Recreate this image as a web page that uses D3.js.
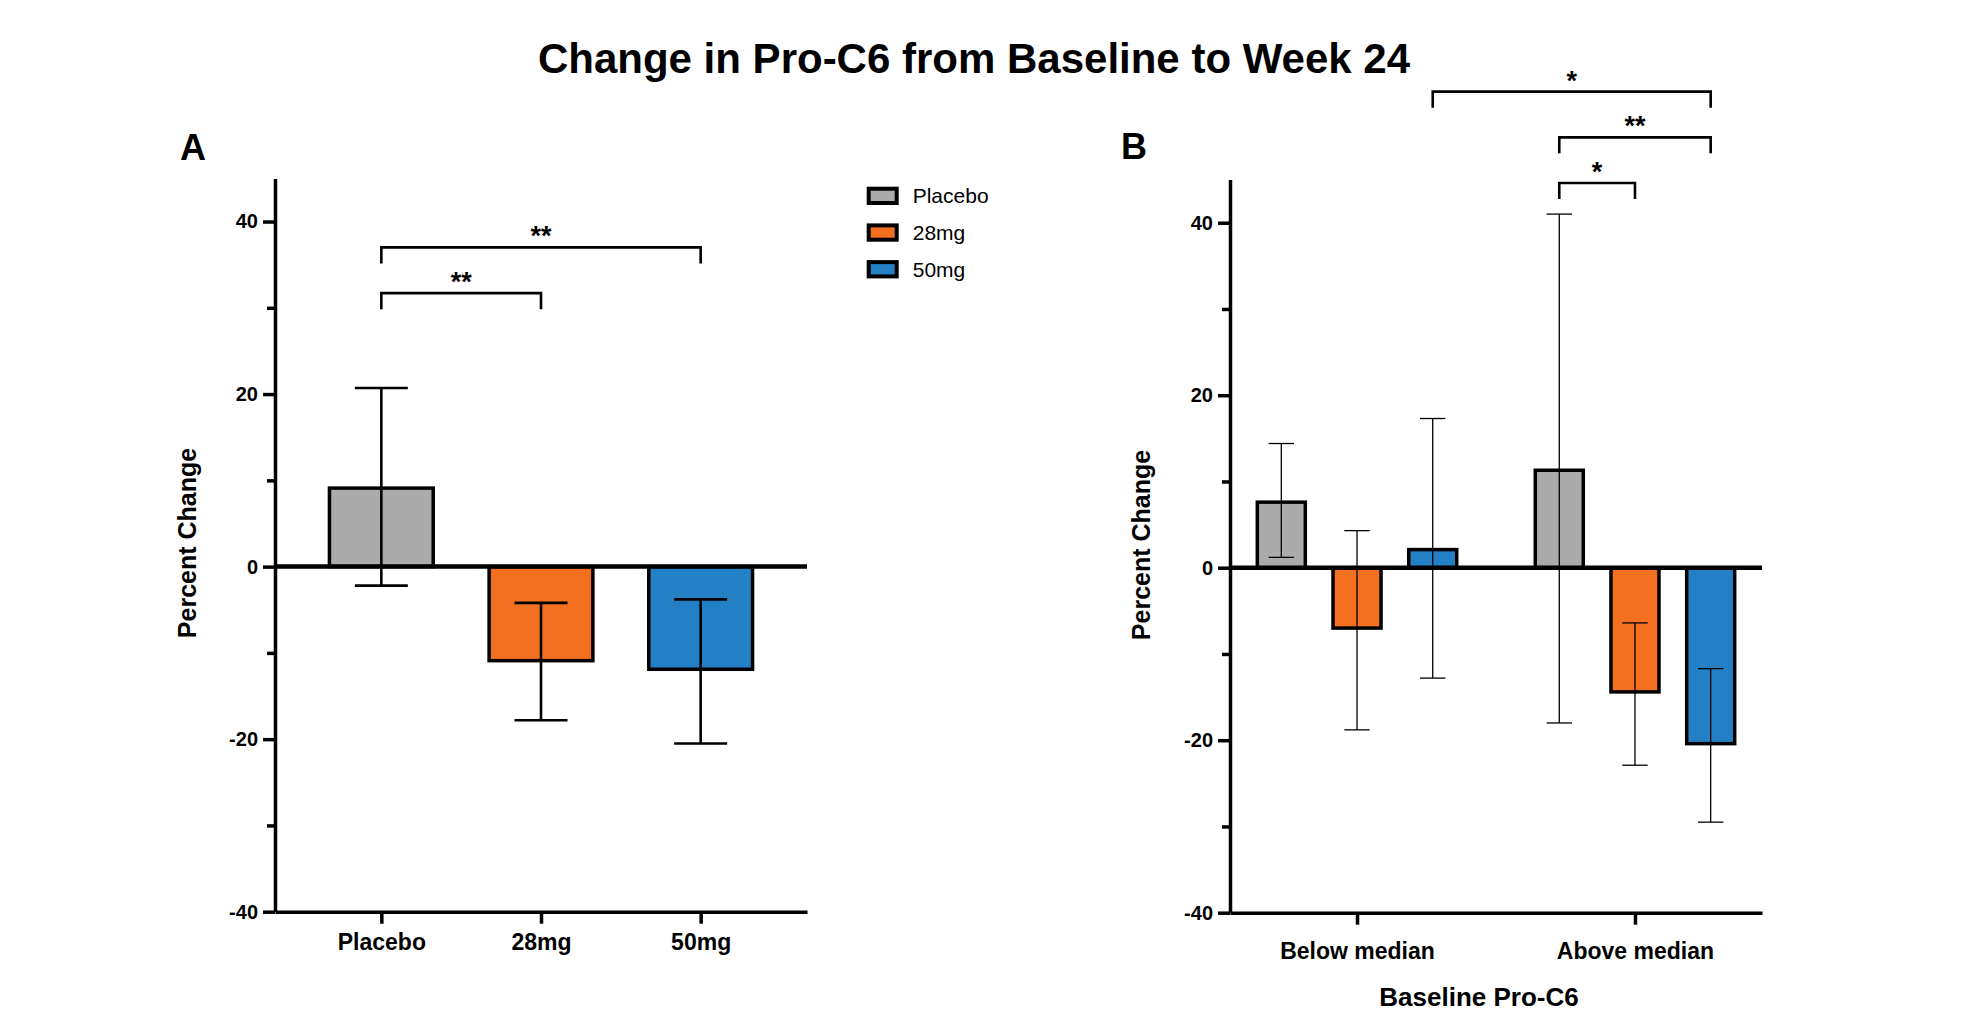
<!DOCTYPE html>
<html>
<head>
<meta charset="utf-8">
<script src="https://cdn.jsdelivr.net/npm/d3@7"></script>
<style>
  body { margin: 0; background: #fff; }
  svg { font-family: "Liberation Sans", Arial, Helvetica, sans-serif; }
</style>
</head>
<body>
<script>
// panel A: treatment groups
var groupsA = ["Placebo", "28mg", "50mg"];
var meanA = [9.1, -10.9, -11.9];
var lowA = [-2.2, -17.8, -20.5];
var highA = [20.7, -4.2, -3.8];

// panel B: baseline Pro-C6 subgroups x treatment
var groupsB = ["Below median", "Above median"];
var series = ["Placebo", "28mg", "50mg"];
var meanB = [[7.6, -7.0, 2.1], [11.3, -14.4, -20.4]];
var lowB = [[1.2, -18.8, -12.8], [-18.0, -22.9, -29.5]];
var highB = [[14.4, 4.3, 17.3], [41.0, -6.4, -11.7]];

var colors = ["#ababab", "#f37021", "#2480c5"];

var majorTicks = [-40, -20, 0, 20, 40];
var minorTicks = [-30, -10, 10, 30];

// significance brackets
var bracketsA = [
    {from: "Placebo", to: "28mg", y: 31.7, label: "**"},
    {from: "Placebo", to: "50mg", y: 37.0, label: "**"}
];
var bracketsB = [
    {from: ["Below median", "50mg"], to: ["Above median", "50mg"], y: 55.2, label: "*"},
    {from: ["Above median", "Placebo"], to: ["Above median", "50mg"], y: 49.9, label: "**"},
    {from: ["Above median", "Placebo"], to: ["Above median", "28mg"], y: 44.6, label: "*"}
];

var width = 1961,
    height = 1013;

var svg = d3.select("body")
    .append("svg")
    .attr("width", width)
    .attr("height", height);

//title
svg.append("text")
    .attr("x", 974)
    .attr("y", 73)
    .attr("text-anchor", "middle")
    .attr("font-size", 42)
    .attr("font-weight", "bold")
    .text("Change in Pro-C6 from Baseline to Week 24");

//y axis for a panel, with major and minor ticks
function drawYAxis(g, y, x0) {
    var major = g.append("g")
        .attr("transform", "translate(" + x0 + ",0)")
        .call(d3.axisLeft(y).tickValues(majorTicks).tickSize(12).tickSizeOuter(0).tickPadding(5)
            .tickFormat(function(d) { return String(d); }));
    major.select(".domain").attr("stroke-width", 3.5);
    major.selectAll(".tick line").attr("stroke-width", 3.5);
    major.selectAll(".tick text")
        .attr("font-size", 20)
        .attr("font-weight", "bold")
        .attr("font-family", null);

    var minor = g.append("g")
        .attr("transform", "translate(" + x0 + ",0)")
        .call(d3.axisLeft(y).tickValues(minorTicks).tickSize(8).tickFormat(""));
    minor.select(".domain").remove();
    minor.selectAll(".tick line").attr("stroke-width", 3.5);
}

function drawXAxis(g, x, y0, labelY) {
    var ax = g.append("g")
        .attr("transform", "translate(0," + y0 + ")")
        .call(d3.axisBottom(x).tickSize(12).tickSizeOuter(0));
    ax.select(".domain").attr("stroke-width", 3.5);
    ax.selectAll(".tick line").attr("stroke-width", 3.5);
    ax.selectAll(".tick text")
        .attr("y", labelY)
        .attr("dy", null)
        .attr("font-size", 23)
        .attr("font-weight", "bold")
        .attr("font-family", null);
}

function drawBracket(g, x1, x2, yv, label) {
    g.append("path")
        .attr("d", "M" + x1 + "," + (yv + 16) + "V" + yv + "H" + x2 + "V" + (yv + 16))
        .attr("fill", "none")
        .attr("stroke", "#000")
        .attr("stroke-width", 2.6);
    g.append("text")
        .attr("x", (x1 + x2) / 2)
        .attr("y", yv - 2)
        .attr("text-anchor", "middle")
        .attr("font-size", 27)
        .attr("font-weight", "bold")
        .text(label);
}

function errorBar(g, cx, lo, hi, cap, sw) {
    g.append("line")
        .attr("x1", cx).attr("x2", cx)
        .attr("y1", lo).attr("y2", hi)
        .attr("stroke", "#000").attr("stroke-width", sw);
    [lo, hi].forEach(function(v) {
        g.append("line")
            .attr("x1", cx - cap / 2).attr("x2", cx + cap / 2)
            .attr("y1", v).attr("y2", v)
            .attr("stroke", "#000").attr("stroke-width", sw);
    });
}

// ---------------- panel A ----------------
var gA = svg.append("g");

var yA = d3.scaleLinear().domain([-40, 45]).range([911.7, 178.4]);
var xA = d3.scalePoint().domain(groupsA).range([275, 807]).padding(0.666);
var barWA = xA.step() * 0.65;

gA.append("text")
    .attr("x", 180).attr("y", 160)
    .attr("font-size", 36).attr("font-weight", "bold")
    .text("A");

drawYAxis(gA, yA, 275);
drawXAxis(gA, xA, yA(-40), 38);

gA.append("text")
    .attr("transform", "translate(196,543) rotate(-90)")
    .attr("text-anchor", "middle")
    .attr("font-size", 25)
    .attr("font-weight", "bold")
    .text("Percent Change");

gA.selectAll(".bar")
    .data(groupsA)
    .enter()
    .append("rect")
    .attr("class", "bar")
    .attr("x", function(d) { return xA(d) - barWA / 2; })
    .attr("width", barWA)
    .attr("y", function(d, i) { return yA(Math.max(0, meanA[i])); })
    .attr("height", function(d, i) { return Math.abs(yA(meanA[i]) - yA(0)); })
    .attr("fill", function(d, i) { return colors[i]; })
    .attr("stroke", "#000")
    .attr("stroke-width", 3.5);

groupsA.forEach(function(d, i) {
    errorBar(gA, xA(d), yA(lowA[i]), yA(highA[i]), 53, 2.6);
});

gA.append("line")
    .attr("x1", 275).attr("x2", 807)
    .attr("y1", yA(0)).attr("y2", yA(0))
    .attr("stroke", "#000").attr("stroke-width", 4.5);

bracketsA.forEach(function(b) {
    drawBracket(gA, xA(b.from), xA(b.to), yA(b.y), b.label);
});

// ---------------- panel B ----------------
var gB = svg.append("g");

var yB = d3.scaleLinear().domain([-40, 45]).range([912.7, 179.6]);
var xB = d3.scalePoint().domain(groupsB).range([1230, 1762]).padding(0.457);
var xInner = d3.scalePoint().domain(series).range([-75.7, 75.7]);
var barWB = 48;

function xPos(pair) { return xB(pair[0]) + xInner(pair[1]); }

gB.append("text")
    .attr("x", 1121).attr("y", 159)
    .attr("font-size", 36).attr("font-weight", "bold")
    .text("B");

drawYAxis(gB, yB, 1230);
drawXAxis(gB, xB, yB(-40), 46.6);

gB.append("text")
    .attr("transform", "translate(1150,545) rotate(-90)")
    .attr("text-anchor", "middle")
    .attr("font-size", 25)
    .attr("font-weight", "bold")
    .text("Percent Change");

gB.append("text")
    .attr("x", 1479).attr("y", 1006)
    .attr("text-anchor", "middle")
    .attr("font-size", 26)
    .attr("font-weight", "bold")
    .text("Baseline Pro-C6");

groupsB.forEach(function(grp, gi) {
    series.forEach(function(s, si) {
        var cx = xB(grp) + xInner(s);
        var v = meanB[gi][si];
        gB.append("rect")
            .attr("x", cx - barWB / 2)
            .attr("width", barWB)
            .attr("y", yB(Math.max(0, v)))
            .attr("height", Math.abs(yB(v) - yB(0)))
            .attr("fill", colors[si])
            .attr("stroke", "#000")
            .attr("stroke-width", 3.5);
    });
});

groupsB.forEach(function(grp, gi) {
    series.forEach(function(s, si) {
        errorBar(gB, xB(grp) + xInner(s), yB(lowB[gi][si]), yB(highB[gi][si]), 25.4, 1.3);
    });
});

gB.append("line")
    .attr("x1", 1230).attr("x2", 1762)
    .attr("y1", yB(0)).attr("y2", yB(0))
    .attr("stroke", "#000").attr("stroke-width", 4.5);

bracketsB.forEach(function(b) {
    drawBracket(gB, xPos(b.from), xPos(b.to), yB(b.y), b.label);
});

// ---------------- legend ----------------
var legend = svg.append("g")
    .attr("transform", "translate(868.7,188.7)");

var items = legend.selectAll(".item")
    .data(series)
    .enter()
    .append("g")
    .attr("class", "item")
    .attr("transform", function(d, i) { return "translate(0," + (i * 36.7) + ")"; });

items.append("rect")
    .attr("width", 28)
    .attr("height", 14.3)
    .attr("fill", function(d, i) { return colors[i]; })
    .attr("stroke", "#000")
    .attr("stroke-width", 4);

items.append("text")
    .attr("x", 44)
    .attr("y", 14.6)
    .attr("font-size", 21)
    .text(function(d) { return d; });
</script>
</body>
</html>
